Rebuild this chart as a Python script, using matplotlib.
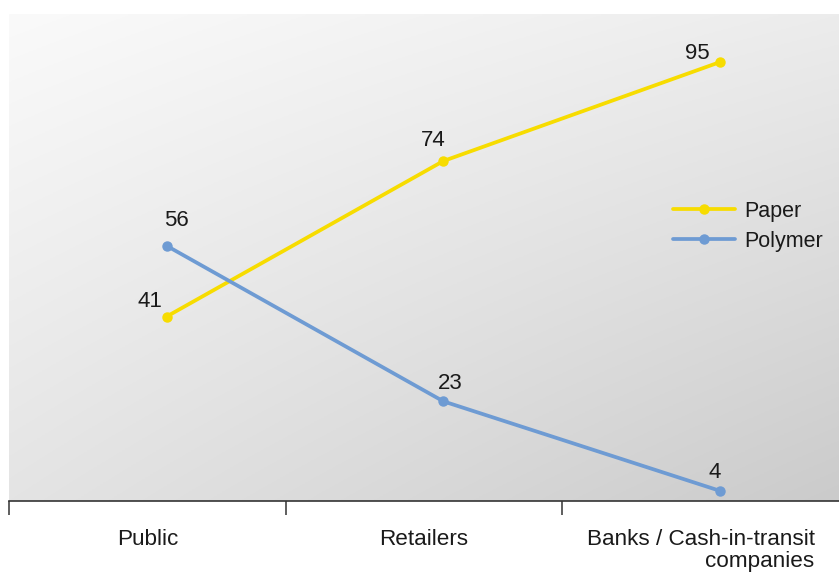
import numpy as np
import matplotlib
matplotlib.use("Agg")
import matplotlib.pyplot as plt

# ---- data ----
categories = ["Public", "Retailers", "Banks / Cash-in-transit\ncompanies"]
paper = [41, 74, 95]
polymer = [56, 23, 4]
series_names = ["Paper", "Polymer"]

# label offsets in points (style)
paper_offsets = [(-12, 11), (-7, 15), (-16, 6)]
polymer_offsets = [(7, 18), (5, 13), (-4, 13)]

plt.rcParams['font.family'] = ['Liberation Sans', 'DejaVu Sans']

W, H = 839, 576
fig = plt.figure(figsize=(W / 100, H / 100), dpi=100)
ax = fig.add_axes([9 / W, (H - 501) / H, (W - 9) / W, (501 - 14) / H])

# gradient background
ny, nx = 200, 300
xx, yy = np.meshgrid(np.linspace(0, 1, nx), np.linspace(1, 0, ny))
tl, tr, bl, br = 250, 236, 228, 203
g = (tl * (1 - xx) * yy + tr * xx * yy + bl * (1 - xx) * (1 - yy) + br * xx * (1 - yy)) / 255.0
img = np.dstack([g, g, g])
ax.imshow(img, extent=[0, 1, 0, 1], transform=ax.transAxes, aspect='auto', zorder=0)

x = np.arange(len(categories))
yellow = "#F7DC00"
blue = "#6E9BD3"
ax.plot(x, paper, color=yellow, lw=2.7, marker='o', ms=6.5, label=series_names[0], zorder=3,
        solid_capstyle='round')
ax.plot(x, polymer, color=blue, lw=2.7, marker='o', ms=6.5, label=series_names[1], zorder=3,
        solid_capstyle='round')

for xi, v, off in zip(x, paper, paper_offsets):
    ax.annotate(str(v), (xi, v), xytext=off, textcoords='offset points',
                ha='center', va='center', fontsize=16, color='#1a1a1a', zorder=4)
for xi, v, off in zip(x, polymer, polymer_offsets):
    ax.annotate(str(v), (xi, v), xytext=off, textcoords='offset points',
                ha='center', va='center', fontsize=16, color='#1a1a1a', zorder=4)

ax.set_xlim(-0.57, 2.43)
ax.set_ylim(1.85, 105.2)

# boundary ticks (major) and centered labels (minor)
ax.set_xticks(np.arange(len(categories)) - 0.57)
ax.set_xticklabels([])
ax.set_xticks(x - 0.07, minor=True)
ax.set_xticklabels(categories, minor=True, fontsize=16.2, color='#1a1a1a', ha='center',
                   multialignment='right', linespacing=1.1)
ax.tick_params(axis='x', which='major', direction='out', length=10, width=1.1, color='#333333')
ax.tick_params(axis='x', which='minor', length=0, pad=20)
ax.set_yticks([])
for s in ['top', 'right', 'left']:
    ax.spines[s].set_visible(False)
ax.spines['bottom'].set_color('#333333')
ax.spines['bottom'].set_linewidth(1.2)

leg = ax.legend(loc='upper left', bbox_to_anchor=((673 - 9) / 830, (501 - 201) / 487),
                frameon=False, fontsize=15.5, handlelength=2.9, handletextpad=0.4,
                labelspacing=0.4, borderpad=0, borderaxespad=0, numpoints=1)
for t in leg.get_texts():
    t.set_color('#1a1a1a')

fig.savefig("out.png", dpi=100, facecolor='white')
